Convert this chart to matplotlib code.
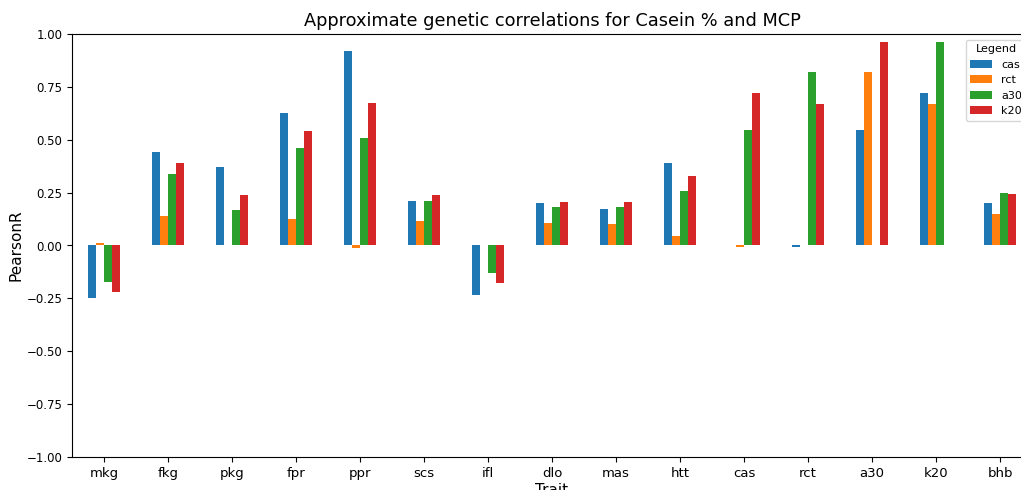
import matplotlib
matplotlib.use("Agg")
import matplotlib.pyplot as plt
import numpy as np
import pandas as pd

traits = ['mkg', 'fkg', 'pkg', 'fpr', 'ppr', 'scs', 'ifl', 'dlo',
          'mas', 'htt', 'cas', 'rct', 'a30', 'k20', 'bhb']

cas = [-0.25, 0.443, 0.37, 0.625, 0.92, 0.21, -0.234, 0.20,
       0.171, 0.39, np.nan, -0.005, 0.546, 0.722, 0.202]
rct = [0.01, 0.14, np.nan, 0.124, -0.01, 0.116, np.nan, 0.108,
       0.10, 0.045, -0.006, np.nan, 0.819, 0.667, 0.147]
a30 = [-0.173, 0.337, 0.17, 0.46, 0.51, 0.21, -0.128, 0.18,
       0.18, 0.258, 0.546, 0.819, np.nan, 0.964, 0.25]
k20 = [-0.218, 0.39, 0.24, 0.54, 0.675, 0.239, -0.179, 0.205,
       0.205, 0.328, 0.722, 0.667, 0.964, np.nan, 0.243]

df = pd.DataFrame({'cas': cas, 'rct': rct, 'a30': a30, 'k20': k20},
                  index=traits)

fig = plt.figure(figsize=(10.21, 4.90), dpi=100)
# axes run past the right edge, as in the cropped original
ax = fig.add_axes([72 / 1021, 33 / 490, 960 / 1021, 423 / 490])

df.plot(kind='bar', ax=ax, rot=0, legend=False)

ax.set_ylim(-1.0, 1.0)
ax.set_yticks(np.arange(-1.0, 1.01, 0.25))
ax.tick_params(axis='y', labelsize=8.5)
ax.tick_params(axis='x', labelsize=9.5)
ax.set_ylabel('PearsonR', fontsize=11, labelpad=2)
ax.set_xlabel('Trait', fontsize=11, labelpad=2)
ax.set_title('Approximate genetic correlations for Casein % and MCP',
             fontsize=12.8)

ax.legend(title='Legend', loc='upper right', fontsize=8, title_fontsize=8)

plt.savefig('out.png', dpi=100)
